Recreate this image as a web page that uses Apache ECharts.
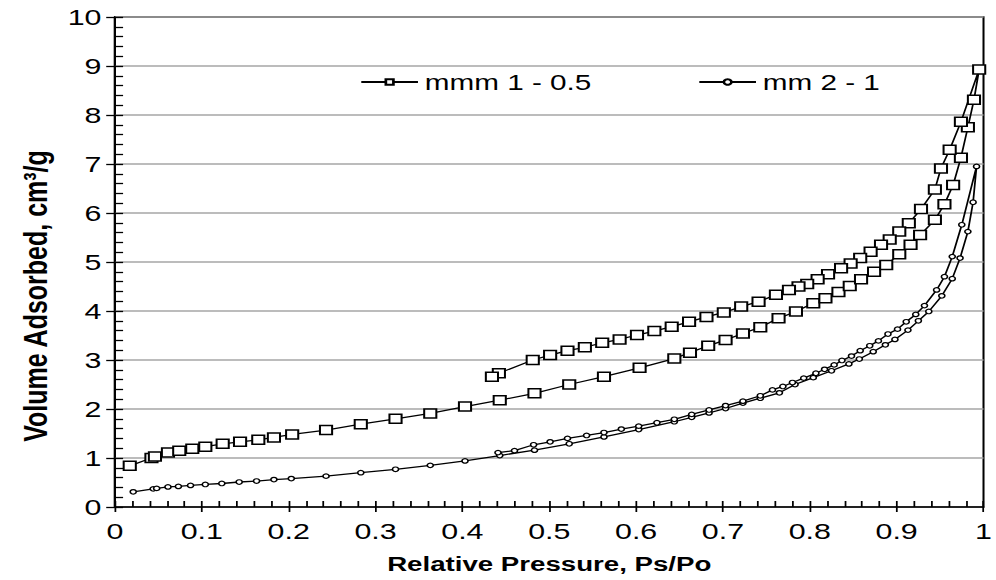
<!DOCTYPE html>
<html>
<head>
<meta charset="utf-8">
<script src="https://cdn.jsdelivr.net/npm/echarts@6/dist/echarts.min.js"></script>
<style>
  html, body { margin: 0; padding: 0; background: #fff; overflow: hidden; }
  #c { width: 738px; height: 580px; transform: scaleX(1.3496); transform-origin: 0 0; }
</style>
</head>
<body>
<div id="c"></div>
<script>
// ---- data ----
const seriesNames = ['mmm 1 - 0.5', 'mm 2 - 1'];
const xTicks = [0, 0.1, 0.2, 0.3, 0.4, 0.5, 0.6, 0.7, 0.8, 0.9, 1];
const yTicks = [0, 1, 2, 3, 4, 5, 6, 7, 8, 9, 10];

// sample 1 (squares): adsorption branch (rising)
const s1Ads = [
  [0.017,0.84],[0.042,1.00],[0.046,1.03],[0.061,1.11],[0.074,1.15],[0.089,1.19],[0.104,1.23],
  [0.124,1.29],[0.144,1.33],[0.165,1.37],[0.183,1.42],[0.204,1.48],[0.243,1.57],[0.283,1.69],
  [0.323,1.80],[0.363,1.91],[0.403,2.05],[0.443,2.18],[0.483,2.32],[0.523,2.50],[0.563,2.66],
  [0.604,2.84],[0.644,3.03],[0.662,3.15],[0.683,3.29],[0.703,3.41],[0.723,3.54],[0.743,3.67],
  [0.764,3.85],[0.784,3.99],[0.804,4.16],[0.818,4.26],[0.833,4.39],[0.846,4.51],[0.859,4.65],
  [0.874,4.80],[0.888,4.94],[0.903,5.16],[0.916,5.35],[0.927,5.55],[0.944,5.86],[0.955,6.18],
  [0.965,6.57],[0.974,7.13],[0.982,7.75],[0.989,8.31],[0.995,8.93]
];
// sample 1 (squares): desorption branch (falling)
const s1Des = [
  [0.974,7.86],[0.961,7.29],[0.951,6.91],[0.944,6.48],[0.928,6.08],[0.914,5.79],[0.903,5.62],
  [0.892,5.46],[0.882,5.35],[0.870,5.21],[0.858,5.08],[0.847,4.97],[0.836,4.87],[0.821,4.75],
  [0.809,4.65],[0.797,4.55],[0.787,4.50],[0.776,4.43],[0.761,4.33],[0.741,4.19],[0.721,4.09],
  [0.701,3.97],[0.681,3.88],[0.661,3.78],[0.641,3.68],[0.621,3.59],[0.601,3.51],[0.581,3.42],
  [0.561,3.35],[0.541,3.26],[0.521,3.19],[0.501,3.10],[0.481,3.00],[0.442,2.73],[0.434,2.66]
];
// sample 2 (circles): adsorption branch
const s2Ads = [
  [0.021,0.31],[0.044,0.37],[0.048,0.38],[0.061,0.41],[0.073,0.42],[0.087,0.44],[0.104,0.46],
  [0.123,0.48],[0.143,0.51],[0.163,0.53],[0.183,0.56],[0.203,0.58],[0.243,0.63],[0.283,0.70],
  [0.323,0.77],[0.363,0.85],[0.403,0.94],[0.443,1.05],[0.483,1.16],[0.523,1.29],[0.563,1.43],
  [0.603,1.58],[0.644,1.74],[0.664,1.83],[0.684,1.92],[0.703,2.01],[0.723,2.12],[0.743,2.22],
  [0.765,2.33],[0.783,2.50],[0.804,2.64],[0.825,2.78],[0.845,2.92],[0.857,3.02],[0.873,3.17],
  [0.887,3.31],[0.898,3.42],[0.913,3.61],[0.925,3.80],[0.937,3.99],[0.952,4.31],[0.964,4.66],
  [0.973,5.08],[0.982,5.62],[0.988,6.22],[0.992,6.95]
];
// sample 2 (circles): desorption branch
const s2Des = [
  [0.975,5.76],[0.964,5.11],[0.955,4.70],[0.946,4.43],[0.932,4.11],[0.922,3.93],[0.911,3.78],
  [0.901,3.63],[0.890,3.53],[0.879,3.39],[0.869,3.29],[0.858,3.19],[0.848,3.08],[0.837,2.99],
  [0.828,2.90],[0.817,2.81],[0.807,2.73],[0.793,2.63],[0.780,2.54],[0.769,2.46],[0.757,2.39],
  [0.743,2.27],[0.723,2.16],[0.703,2.07],[0.684,1.98],[0.664,1.89],[0.644,1.79],[0.624,1.72],
  [0.603,1.65],[0.583,1.59],[0.563,1.52],[0.543,1.46],[0.521,1.40],[0.501,1.33],[0.482,1.27],
  [0.460,1.15],[0.441,1.11]
];

// ---- chart ----
const FONT = '"Liberation Sans", Arial, sans-serif';
const chart = echarts.init(document.getElementById('c'), null, { renderer: 'svg' });
const xMin = xTicks[0], xMax = xTicks[xTicks.length - 1], xInt = xTicks[1] - xTicks[0];
const yMin = yTicks[0], yMax = yTicks[yTicks.length - 1], yInt = yTicks[1] - yTicks[0];

chart.setOption({
  animation: false,
  backgroundColor: '#fff',
  grid: { left: 85.2, right: 3.8, top: 17, bottom: 73, show: true, borderColor: '#000', borderWidth: 1.5, backgroundColor: 'transparent' },
  legend: {
    data: seriesNames,
    left: 266.7, top: 71, padding: 0,
    itemWidth: 42, itemHeight: 7, itemGap: 79,
    textStyle: { fontFamily: FONT, fontSize: 22, color: '#000' }
  },
  xAxis: [
    {
      type: 'value', position: 'bottom', min: xMin, max: xMax, interval: xInt,
      name: 'Relative Pressure, Ps/Po', nameLocation: 'middle', nameGap: 46,
      nameTextStyle: { fontFamily: FONT, fontSize: 20.5, fontWeight: 'bold', color: '#000' },
      axisLine: { onZero: false, lineStyle: { color: '#000', width: 1.5 } },
      axisTick: { inside: true, length: 6, lineStyle: { color: '#000', width: 1.3 } },
      minorTick: { show: true, splitNumber: 5, length: 6, lineStyle: { color: '#000', width: 1.3 } },
      axisLabel: { fontFamily: FONT, fontSize: 22.5, color: '#000', margin: 13,
        formatter: v => (Math.round(v * 10) / 10).toString() },
      splitLine: { show: false }
    },
    {
      type: 'value', position: 'bottom', min: xMin, max: xMax, interval: xInt,
      axisLine: { show: false, onZero: false },
      axisTick: { inside: false, length: 5, lineStyle: { color: '#000', width: 1.3 } },
      axisLabel: { show: false }, splitLine: { show: false }
    }
  ],
  yAxis: [
    {
      type: 'value', position: 'left', min: yMin, max: yMax, interval: yInt,
      name: 'Volume Adsorbed, cm³/g', nameLocation: 'middle', nameGap: 47, nameRotate: 90,
      nameTextStyle: { fontFamily: FONT, fontSize: 25, fontWeight: 'bold', color: '#000', padding: [0, 68, 0, 0] },
      axisLine: { onZero: false, lineStyle: { color: '#000', width: 1.5 } },
      axisTick: { inside: true, length: 6, lineStyle: { color: '#000', width: 1.3 } },
      minorTick: { show: true, splitNumber: 5, length: 6, lineStyle: { color: '#000', width: 1.3 } },
      axisLabel: { fontFamily: FONT, fontSize: 22.5, color: '#000', margin: 10 },
      splitLine: { show: true, lineStyle: { color: '#a6a6a6', width: 1.5 } }
    },
    {
      type: 'value', position: 'left', min: yMin, max: yMax, interval: yInt,
      axisLine: { show: false, onZero: false },
      axisTick: { inside: false, length: 6.5, lineStyle: { color: '#000', width: 1.3 } },
      axisLabel: { show: false }, splitLine: { show: false }
    }
  ],
  series: [
    {
      name: seriesNames[0], type: 'line', xAxisIndex: 0, yAxisIndex: 0,
      data: s1Ads.concat(s1Des),
      symbol: 'rect', symbolSize: [9, 9],
      lineStyle: { color: '#000', width: 1.3 },
      itemStyle: { color: '#fff', borderColor: '#000', borderWidth: 1.5 },
      z: 3
    },
    {
      name: seriesNames[1], type: 'line', xAxisIndex: 0, yAxisIndex: 0,
      data: s2Ads.concat(s2Des),
      symbol: 'circle', symbolSize: 4.5,
      lineStyle: { color: '#000', width: 1.3 },
      itemStyle: { color: '#fff', borderColor: '#000', borderWidth: 1.2 },
      z: 3
    }
  ]
});
</script>
</body>
</html>
